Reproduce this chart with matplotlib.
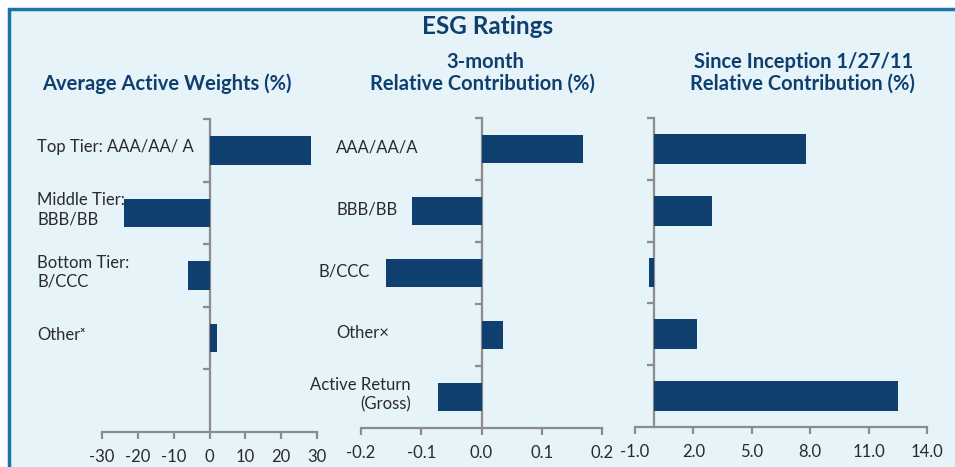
import matplotlib
matplotlib.use("Agg")
import matplotlib.pyplot as plt
import matplotlib.transforms as mtransforms
from matplotlib.patches import Rectangle

# data
weight_labels = ["Top Tier: AAA/AA/ A", "Middle Tier:\nBBB/BB", "Bottom Tier:\nB/CCC", "Other\u02e3"]
weights = [28.3, -23.9, -5.9, 2.1]

contrib_labels = ["AAA/AA/A", "BBB/BB", "B/CCC", "Other\u00d7", "Active Return\n(Gross)"]
contrib_3m = [0.168, -0.116, -0.159, 0.035, -0.073]
contrib_inception = [7.8, 2.95, -0.28, 2.19, 12.53]

ticks_w = [-30, -20, -10, 0, 10, 20, 30]
ticks_3m = [-0.2, -0.1, 0.0, 0.1, 0.2]
ticks_inc = [-1.0, 2.0, 5.0, 8.0, 11.0, 14.0]

plt.rcParams['font.family'] = ['Lato', 'DejaVu Sans']

W, H = 955, 467
navy = '#0e3f6f'
gray = '#8c8c8c'
txt = '#2a2a2a'
bg = '#e6f3f9'

fig = plt.figure(figsize=(W / 100, H / 100), dpi=100)
fig.patch.set_facecolor('white')

# light blue panel with blue border (runs off right and bottom edges)
fig.patches.append(Rectangle((9 / W, -0.1), 1.2, 1 - 9 / H + 0.1, transform=fig.transFigure,
                             facecolor=bg, edgecolor='#1b74a6', linewidth=2.5, zorder=-10))


def px_axes(x0, y0, x1, y1):
    return fig.add_axes([x0 / W, 1 - y1 / H, (x1 - x0) / W, (y1 - y0) / H])


def style(ax, nslots, xlim, ticks, fmt):
    ax.set_facecolor('none')
    ax.set_xlim(*xlim)
    ax.set_ylim(nslots - 0.5, -0.5)
    for s in ['top', 'right']:
        ax.spines[s].set_visible(False)
    ax.spines['left'].set_position(('data', 0))
    for s in ['left', 'bottom']:
        ax.spines[s].set_color(gray)
        ax.spines[s].set_linewidth(1.6)
    ax.set_yticks([i - 0.5 for i in range(nslots)])
    ax.set_yticklabels([])
    ax.set_xticks(ticks)
    ax.set_xticklabels([fmt(t) for t in ticks], fontsize=12, color=txt)
    ax.tick_params(axis='both', direction='out', length=5, width=1.6, color=gray)
    ax.tick_params(axis='x', pad=7)


ax1 = px_axes(102, 119, 317, 432)
ax1.barh(range(len(weights)), weights, height=0.46, color=navy, zorder=3)
style(ax1, 5, (-30, 30), ticks_w, lambda t: f"{t:d}")

ax2 = px_axes(361, 118, 602, 428)
ax2.barh(range(len(contrib_3m)), contrib_3m, height=0.46, color=navy, zorder=3)
style(ax2, 5, (-0.2, 0.2), ticks_3m, lambda t: f"{t:.1f}")

ax3 = px_axes(635, 118, 927, 427)
ax3.barh(range(len(contrib_inception)), contrib_inception, height=0.48, color=navy, zorder=3)
style(ax3, 5, (-1, 14), ticks_inc, lambda t: f"{t:.1f}")

# category labels
tr1 = mtransforms.blended_transform_factory(fig.transFigure, ax1.transData)
for i, lab in enumerate(weight_labels):
    ax1.text(37 / W, i - 0.05, lab, transform=tr1, ha='left', va='center',
             fontsize=12, color=txt, linespacing=1.25, zorder=2)

tr2 = mtransforms.blended_transform_factory(fig.transFigure, ax2.transData)
lab_x = [336, 336, 318, 336, 411]
lab_ha = ['left', 'left', 'left', 'left', 'right']
for i, lab in enumerate(contrib_labels):
    ax2.text(lab_x[i] / W, i - 0.03, lab, transform=tr2, ha=lab_ha[i], va='center',
             fontsize=12, color=txt, linespacing=1.25, multialignment='right', zorder=2)

# titles
def ftext(x, y, s, size):
    fig.text(x / W, 1 - y / H, s, ha='center', va='center', fontsize=size,
             fontweight='bold', color=navy)

ftext(488, 27, "ESG Ratings", 17.5)
ftext(167, 84, "Average Active Weights (%)", 14.5)
ftext(485, 62, "3-month", 14.5)
ftext(482, 84, "Relative Contribution (%)", 14.5)
ftext(804, 62, "Since Inception 1/27/11", 14.5)
ftext(802, 84, "Relative Contribution (%)", 14.5)

fig.savefig("out.png", dpi=100, facecolor=fig.get_facecolor())
